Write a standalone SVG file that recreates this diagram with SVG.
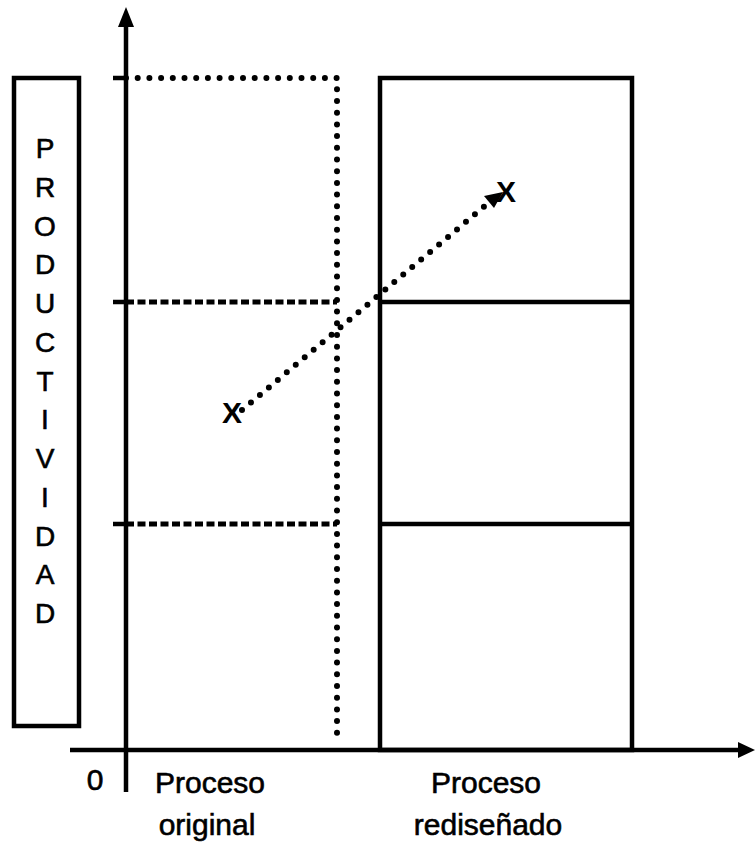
<svg xmlns="http://www.w3.org/2000/svg" width="755" height="847" viewBox="0 0 755 847">
<style>
.solid{stroke:#000;stroke-width:4.5;fill:none}
.dot{stroke:#000;stroke-width:6;fill:none;stroke-linecap:round;stroke-dasharray:0 11.7}
.dash{stroke:#000;stroke-width:5;fill:none;stroke-dasharray:8 3.5}
.t{font-family:"Liberation Sans",Arial,sans-serif;font-size:30px;fill:#000;stroke:#000;stroke-width:0.6}
.lbl{font-family:"Liberation Sans",Arial,sans-serif;font-size:28px;fill:#000;stroke:#000;stroke-width:0.6;text-anchor:middle}
.x{font-family:"Liberation Sans",Arial,sans-serif;font-size:30px;font-weight:bold;fill:#000;text-anchor:middle}
</style>
<g id="ylabel">
<rect class="solid" x="14" y="78" width="65" height="648"/>
<text class="lbl" x="45" y="158">P</text>
<text class="lbl" x="45" y="197">R</text>
<text class="lbl" x="45" y="235.5">O</text>
<text class="lbl" x="45" y="274">D</text>
<text class="lbl" x="45" y="313">U</text>
<text class="lbl" x="45" y="352">C</text>
<text class="lbl" x="45" y="390.5">T</text>
<text class="lbl" x="45" y="429">I</text>
<text class="lbl" x="45" y="468">V</text>
<text class="lbl" x="45" y="507">I</text>
<text class="lbl" x="45" y="545.5">D</text>
<text class="lbl" x="45" y="584">A</text>
<text class="lbl" x="45" y="623">D</text>
</g>
<g id="original">
<path class="dot" d="M126,78 H337 V742"/>
<path class="dash" d="M126,302 H337 M126,524 H337"/>
<path class="solid" d="M113,78 H126 M113,302 H126 M113,524 H126"/>
</g>
<g id="redisenado">
<rect class="solid" x="380" y="78" width="252" height="672"/>
<path class="solid" d="M380,302 H632 M380,524 H632"/>
</g>
<g id="axes">
<path class="solid" d="M126,792 V24"/>
<path d="M126,7 L118,27 L134,27 Z" fill="#000"/>
<path class="solid" d="M70,750 H740"/>
<path d="M755,750 L738,742 L738,758 Z" fill="#000"/>
<text class="t" x="95" y="790" text-anchor="middle">0</text>
</g>
<g id="points">
<text class="x" x="232" y="423">X</text>
<text class="x" x="506" y="202">X</text>
</g>
<g id="connectors">
<path class="dot" d="M242,410 L492,200"/>
<path d="M503,192 L484,196 L494,208 Z" fill="#000"/>
</g>
<g id="labels">
<text class="t" x="210" y="793" text-anchor="middle">Proceso</text>
<text class="t" x="207" y="835" text-anchor="middle">original</text>
<text class="t" x="486" y="793" text-anchor="middle">Proceso</text>
<text class="t" x="488" y="835" text-anchor="middle">rediseñado</text>
</g>
</svg>
